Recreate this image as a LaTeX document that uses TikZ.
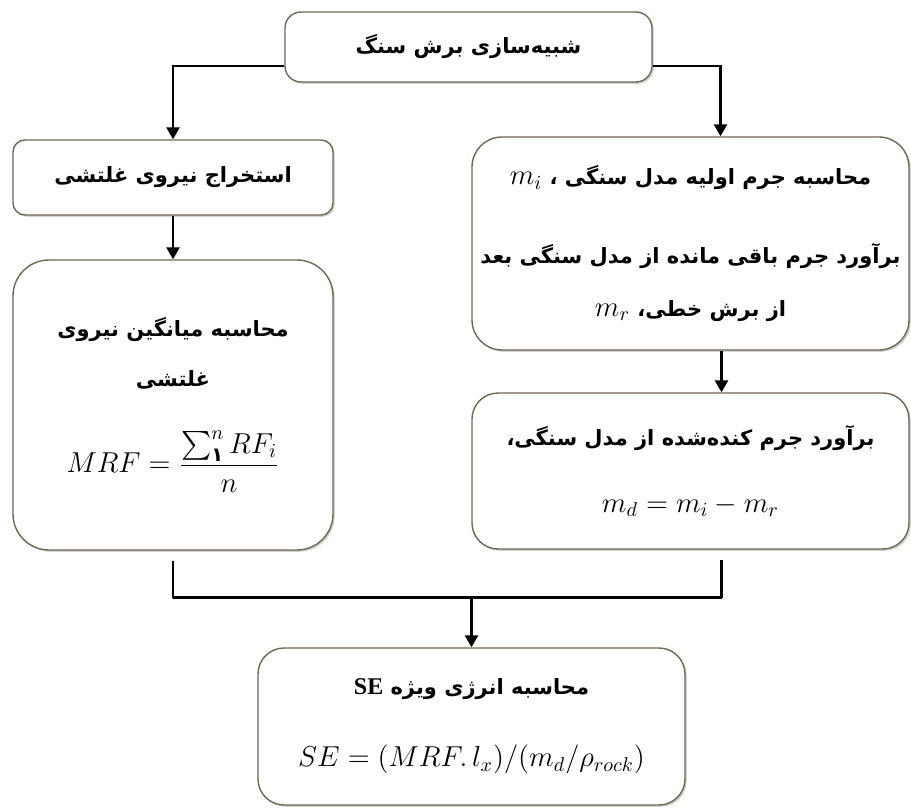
\documentclass[tikz,border=0pt]{standalone}
\usepackage{amsmath}
\usepackage{fontspec}
\setmainfont{Liberation Serif}
\newfontfamily\fa[Script=Arabic]{DejaVu Sans}
\TeXXeTstate=1
\usetikzlibrary{arrows.meta,shadows}
\definecolor{boxc}{RGB}{110,104,80}
\newcommand{\mfont}{\fontsize{14}{17}\selectfont}
\tikzset{
  x=0.5pt, y=-0.5pt,
  box/.style={draw=boxc, line width=0.7pt, fill=white, align=center, inner sep=0pt,
    font=\fa\bfseries\fontsize{10.5}{14}\selectfont,
    drop shadow={shadow xshift=0.9pt, shadow yshift=-0.9pt, opacity=0.3, fill=black!60}},
  conn/.style={line width=1.3pt, black},
  arr/.style={conn, -{Triangle[width=6.5pt,length=6pt]}}
}
\begin{document}
\begin{tikzpicture}
\useasboundingbox (0,0) rectangle (911,808);
\node[box, minimum width=183.5pt, minimum height=35pt, rounded corners=8pt] (top) at (468.5,47)
  {\beginR شبیه‌سازی برش سنگ\endR};
\node[box, minimum width=160pt, minimum height=37.5pt, rounded corners=6pt] (left1) at (173,177.5)
  {\beginR استخراج نیروی غلتشی\endR};
\node[box, minimum width=218.5pt, minimum height=106.5pt, rounded corners=15pt] (right1) at (690.5,243.5)
  {\raisebox{-2.5pt}{\beginR محاسبه جرم اولیه مدل سنگی ، \beginL{\mfont$m_i$}\endL\endR}\\[25.5pt]
   \beginR برآورد جرم باقی مانده از مدل سنگی بعد\endR\\[12.5pt]
   \beginR از برش خطی، \beginL{\mfont$m_r$}\endL\endR};
\node[box, minimum width=160pt, minimum height=145pt, rounded corners=18pt] (left2) at (173,405)
  {\beginR محاسبه میانگین نیروی\endR\\[11pt]
   \beginR غلتشی\endR\\[20pt]
   {\mfont$\displaystyle MRF=\frac{\sum_{\text{۱}}^{n}RF_i}{n}$}};
\node[box, minimum width=218.5pt, minimum height=78pt, rounded corners=13pt] (right2) at (690.5,471)
  {\beginR برآورد جرم کنده‌شده از مدل سنگی،\endR\\[19.5pt]
   {\mfont$m_d=m_i-m_r$}};
\node[box, minimum width=213.5pt, minimum height=78.5pt, rounded corners=13pt] (bottom) at (471.5,726.5)
  {\beginR محاسبه انرژی ویژه \beginL{\rmfamily\bfseries\fontsize{12}{14}\selectfont SE}\endL\endR\\[22pt]
   {\mfont$SE=(MRF.\,l_x)/(m_d/\rho_{rock})$}};
\draw[arr] ([yshift=-9.5pt]top.west) -| (left1.north);
\draw[arr] ([yshift=-9.5pt]top.east) -| ([xshift=15pt]right1.north);
\draw[arr] (left1.south) -- (left2.north);
\draw[arr] ([xshift=15.5pt]right1.south) -- ([xshift=15.5pt]right2.north);
\coordinate (join) at ([yshift=25pt]bottom.north);
\draw[conn, line join=round] ([yshift=-5pt]left2.south) |- (join) -| ([xshift=15.5pt,yshift=-5pt]right2.south);
\draw[arr] (join) -- (bottom.north);
\end{tikzpicture}
\end{document}
